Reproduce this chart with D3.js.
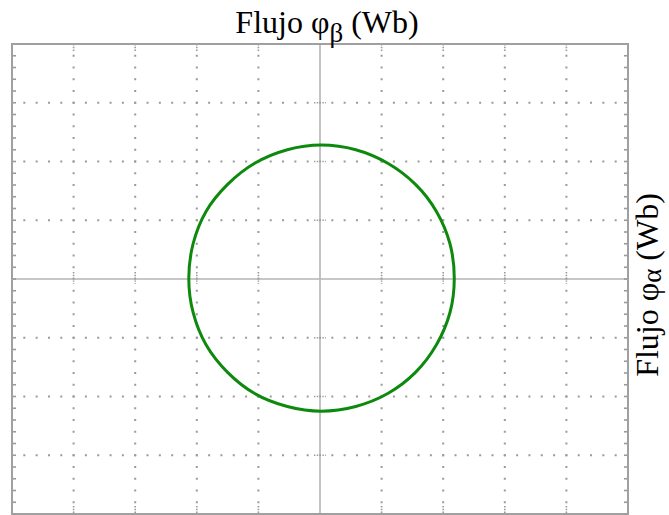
<!DOCTYPE html>
<html>
<head>
<meta charset="utf-8">
<script src="https://cdn.jsdelivr.net/npm/d3@7"></script>
<style>
  body { margin: 0; background: #fff; }
  svg { display: block; }
</style>
</head>
<body>
<svg id="chart"></svg>
<script>
// screen divisions of the scope
const xDivs = [-5, -4, -3, -2, -1, 0, 1, 2, 3, 4, 5];
const yDivs = [-4, -3, -2, -1, 0, 1, 2, 3, 4];
const minorStep = 0.2;

// trace (in divisions), every ~15 degrees
const traceX = [2.18, 2.11, 1.89, 1.55, 1.10, 0.58, 0.02, -0.53, -1.06, -1.50, -1.85, -2.06,
  -2.13, -2.06, -1.85, -1.50, -1.06, -0.53, 0.02, 0.58, 1.10, 1.55, 1.89, 2.11];
const traceY = [0.01, 0.60, 1.15, 1.61, 1.97, 2.20, 2.28, 2.20, 1.97, 1.61, 1.15, 0.60,
  0.01, -0.57, -1.12, -1.59, -1.95, -2.17, -2.25, -2.17, -1.95, -1.59, -1.12, -0.57];

const titleTop = "Flujo φ";
const titleTopSub = "β";
const titleRight = "Flujo φ";
const titleRightSub = "α";

const width = 669, height = 515;
const margin = ({top: 44, right: 41, bottom: 1, left: 12});

const svg = d3.select("#chart")
    .attr("width", width)
    .attr("height", height)
    .attr("viewBox", [0, 0, width, height]);

const x = d3.scaleLinear().domain([-5, 5]).range([margin.left, width - margin.right]);
const y = d3.scaleLinear().domain([-4, 4]).range([height - margin.bottom, margin.top]);

const minorX = d3.range(-5, 5.0001, minorStep).map(v => +v.toFixed(2));
const minorY = d3.range(-4, 4.0001, minorStep).map(v => +v.toFixed(2));
const gray = "#9a9a9a";

// dotted grid lines
const dots = svg.append("g").attr("fill", gray);
xDivs.filter(d => d > -5 && d < 5 && d !== 0).forEach(d => {
    dots.append("g").selectAll("rect")
        .data(minorY.filter(v => v > -4 && v < 4))
        .join("rect")
        .attr("x", x(d) - 1).attr("y", v => y(v) - 1)
        .attr("width", 2).attr("height", 2);
});
yDivs.filter(d => d > -4 && d < 4 && d !== 0).forEach(d => {
    dots.append("g").selectAll("rect")
        .data(minorX.filter(v => v > -5 && v < 5))
        .join("rect")
        .attr("x", v => x(v) - 1).attr("y", y(d) - 1)
        .attr("width", 2).attr("height", 2);
});

// center axes
svg.append("g")
    .attr("stroke", "#b4b4b4")
    .attr("stroke-width", 1.6)
    .call(g => g.append("line")
        .attr("x1", x(0)).attr("x2", x(0))
        .attr("y1", y(4)).attr("y2", y(-4)))
    .call(g => g.append("line")
        .attr("x1", x(-5)).attr("x2", x(5))
        .attr("y1", y(0)).attr("y2", y(0)));

// dense marks where grid lines meet the center axes and top/bottom edges
const dense = svg.append("g")
    .attr("stroke", gray)
    .attr("stroke-width", 1.6)
    .attr("stroke-dasharray", "1.4,1.4");
xDivs.filter(d => d > -5 && d < 5 && d !== 0).forEach(d => {
    dense.append("line").attr("x1", x(d)).attr("x2", x(d)).attr("y1", y(0) - 7).attr("y2", y(0) + 5);
    dense.append("line").attr("x1", x(d)).attr("x2", x(d)).attr("y1", y(4)).attr("y2", y(4) + 8);
    dense.append("line").attr("x1", x(d)).attr("x2", x(d)).attr("y1", y(-4) - 8).attr("y2", y(-4));
});
yDivs.filter(d => d > -4 && d < 4 && d !== 0).forEach(d => {
    dense.append("line").attr("y1", y(d)).attr("y2", y(d)).attr("x1", x(0) - 6).attr("x2", x(0) + 6);
});

// minor ticks on left and right edges
svg.append("g")
    .attr("stroke", gray)
    .attr("stroke-width", 1.6)
    .selectAll("g")
    .data(minorY.filter(v => v > -4 && v < 4))
    .join("g")
    .call(g => g.append("line")
        .attr("x1", x(-5)).attr("x2", x(-5) + 4)
        .attr("y1", d => y(d)).attr("y2", d => y(d)))
    .call(g => g.append("line")
        .attr("x1", x(5) - 4).attr("x2", x(5))
        .attr("y1", d => y(d)).attr("y2", d => y(d)));

// frame
svg.append("rect")
    .attr("x", x(-5)).attr("y", y(4))
    .attr("width", x(5) - x(-5)).attr("height", y(-4) - y(4))
    .attr("fill", "none")
    .attr("stroke", "#a0a0a0")
    .attr("stroke-width", 2);

// trace
const trace = traceX.map((v, i) => [v, traceY[i]]);
svg.append("path")
    .datum(trace)
    .attr("fill", "none")
    .attr("stroke", "#0d8a0d")
    .attr("stroke-width", 3)
    .attr("stroke-linejoin", "round")
    .attr("d", d3.line()
        .x(d => x(d[0]))
        .y(d => y(d[1]))
        .curve(d3.curveCardinalClosed));

// labels
const topLabel = svg.append("text")
    .attr("x", x(0) + 7)
    .attr("y", 33)
    .attr("text-anchor", "middle")
    .attr("font-family", "'Liberation Serif', 'Times New Roman', serif")
    .attr("font-size", 32)
    .attr("fill", "#000");
topLabel.append("tspan").text(titleTop);
topLabel.append("tspan").attr("dy", 9).attr("font-size", 27).text(titleTopSub);
topLabel.append("tspan").attr("dy", -9).text(" (Wb)");

const rightLabel = svg.append("text")
    .attr("transform", `translate(${width - 11},${y(0) + 6}) rotate(-90)`)
    .attr("text-anchor", "middle")
    .attr("font-family", "'Liberation Serif', 'Times New Roman', serif")
    .attr("font-size", 32)
    .attr("fill", "#000");
rightLabel.append("tspan").text(titleRight);
rightLabel.append("tspan").attr("dy", 3).attr("font-size", 27).text(titleRightSub);
rightLabel.append("tspan").attr("dy", -3).text(" (Wb)");
</script>
</body>
</html>
